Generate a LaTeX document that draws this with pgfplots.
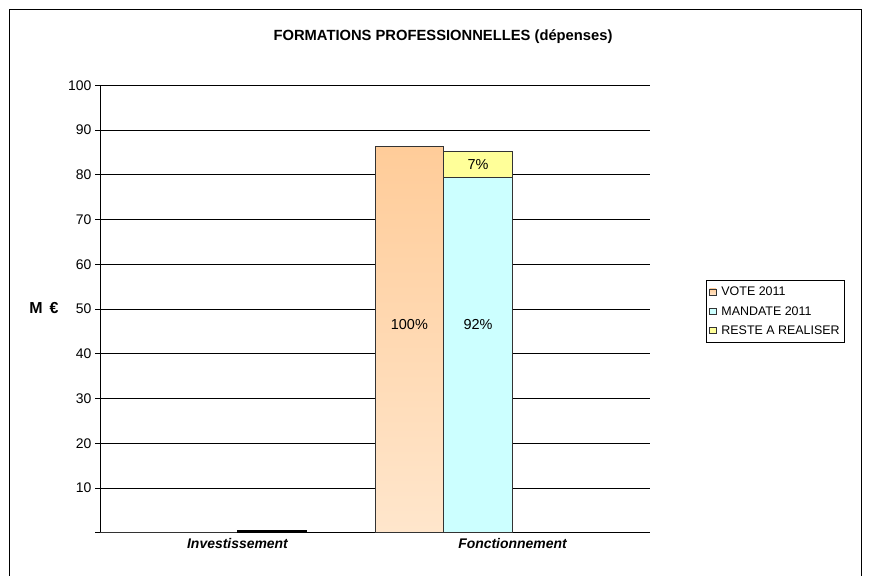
\documentclass[border=0pt]{standalone}
\usepackage{pgfplots}
\pgfplotsset{compat=1.18}
\usepackage{fontspec}
\setmainfont{Liberation Sans}
\definecolor{voteTop}{RGB}{255,204,153}
\definecolor{voteBot}{RGB}{255,230,204}
\definecolor{mand}{RGB}{204,255,255}
\definecolor{reste}{RGB}{255,255,153}
\begin{document}
\begin{tikzpicture}
\useasboundingbox (0bp,0bp) rectangle (871bp,576bp);
\draw[black, line width=0.8bp] (9.5bp,-5bp) -- (9.5bp,566.5bp) -- (861.5bp,566.5bp) -- (861.5bp,-5bp);
\node[font=\bfseries\fontsize{14.8}{17}\selectfont] at (443bp,539bp) {FORMATIONS PROFESSIONNELLES (dépenses)};
\node[font=\bfseries\fontsize{16}{18}\selectfont] at (44bp,268bp) {M\, €};
\begin{axis}[
  at={(100bp,43.3bp)}, anchor=south west,
  scale only axis, width=550bp, height=447.4bp,
  xmin=-0.5, xmax=1.5, ymin=0, ymax=100,
  axis x line*=bottom, axis y line*=left,
  axis line style={black, line width=0.8bp},
  xtick={0,1}, xticklabels={Investissement,Fonctionnement},
  x tick label style={font=\bfseries\itshape\fontsize{14}{16}\selectfont, yshift=-2bp},
  major x tick style={draw=none},
  extra x ticks={-0.5,0.5,1.5}, extra x tick labels={},
  extra x tick style={major tick length=5bp, tick align=outside, tick style={black, line width=0.6bp}},
  ytick={0,10,...,100}, yticklabels={,10,20,30,40,50,60,70,80,90,100},
  y tick label style={font=\fontsize{14}{16}\selectfont},
  /pgf/number format/assume math mode=true,
  ytick align=outside, major tick length=5bp,
  y tick style={black, line width=0.6bp},
  ymajorgrids, grid style={black, line width=0.6bp},
  bar width=0.25,
  legend cell align=left,
  legend style={at={(1.102,0.565)}, anchor=north west, draw=black, line width=0.6bp,
    font=\fontsize{12.5}{14}\selectfont, row sep=5bp, inner xsep=3bp, inner ysep=5bp,
    /tikz/every odd column/.append style={column sep=3bp}},
  legend image code/.code={\draw[#1, line width=0.5bp] (0bp,-3bp) rectangle (6.5bp,3.5bp);},
]
\addplot[ybar, bar shift=-0.375, top color=voteTop, bottom color=voteBot, draw=black!80, line width=0.7bp, legend image code/.code={\draw[fill=voteTop, draw=black!80, line width=0.5bp] (0bp,-3bp) rectangle (6.5bp,3.5bp);}]
  coordinates {(0,0) (1,86.3)};
\addplot[ybar, bar shift=-0.125, fill=reste, draw=black!80, line width=0.7bp, forget plot]
  coordinates {(1,85.2)};
\addplot[ybar, bar shift=-0.125, fill=mand, draw=black!80, line width=0.7bp]
  coordinates {(0,0) (1,79.4)};
\addplot[ybar, bar shift=0.125, fill=black, draw=black, line width=0.7bp, forget plot]
  coordinates {(0,0.45)};
\addlegendimage{fill=reste, draw=black!80}
\legend{VOTE 2011, MANDATE 2011, RESTE A REALISER}
\node[font=\fontsize{14.5}{16}\selectfont] at (axis cs:0.625,46.5) {100\%};
\node[font=\fontsize{14.5}{16}\selectfont] at (axis cs:0.875,46.5) {92\%};
\node[font=\fontsize{14.5}{16}\selectfont] at (axis cs:0.875,82.3) {7\%};
\end{axis}
\end{tikzpicture}
\end{document}
